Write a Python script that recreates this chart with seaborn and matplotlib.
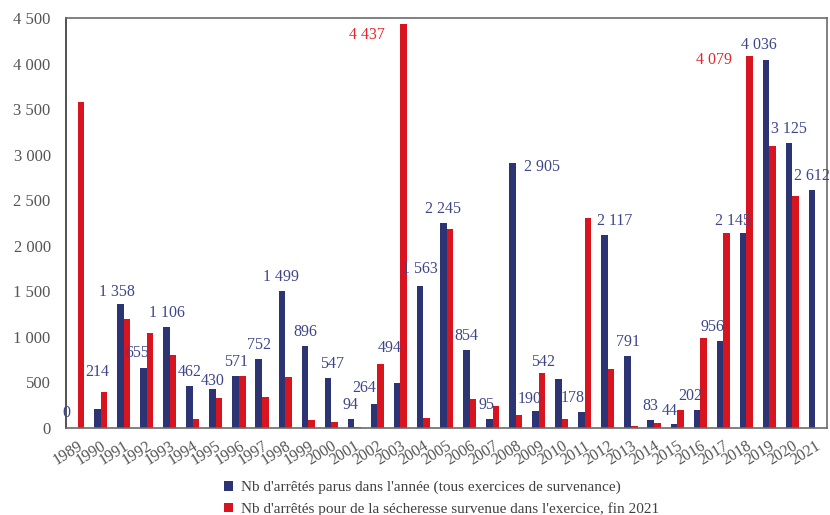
import matplotlib
matplotlib.use("Agg")
import matplotlib.pyplot as plt
from matplotlib.patches import Patch
from matplotlib.ticker import FixedLocator, FuncFormatter
import numpy as np
import pandas as pd
import seaborn as sns

# ---------------- data ----------------
years = [str(y) for y in range(1989, 2022)]
parus = [0, 214, 1358, 655, 1106, 462, 430, 571, 752, 1499, 896, 547, 94, 264, 494,
         1563, 2245, 854, 95, 2905, 190, 542, 178, 2117, 791, 83, 44, 202, 956, 2145,
         4036, 3125, 2612]
survenue = [3580, 390, 1195, 1040, 800, 98, 330, 575, 336, 556, 91, 66, 15, 702, 4437,
            110, 2185, 322, 245, 139, 603, 99, 2300, 647, 22, 55, 201, 987, 2140, 4079,
            3100, 2547, np.nan]
series_names = ["Nb d'arrêtés parus dans l'année (tous exercices de survenance)",
                "Nb d'arrêtés pour de la sécheresse survenue dans l'exercice, fin 2021"]
yticks = [0, 500, 1000, 1500, 2000, 2500, 3000, 3500, 4000, 4500]
red_labelled_years = ["2003", "2018"]

# ---------------- style ----------------
BLUE = "#2D3473"
RED = "#D8141E"
BLUE_TXT = "#3E4689"
RED_TXT = "#E0262E"
GRAY_TXT = "#555555"

sns.set_style("white")
plt.rcParams["font.family"] = ["Liberation Serif", "DejaVu Serif"]

df = pd.DataFrame({
    "year": years * 2,
    "value": parus + survenue,
    "series": [series_names[0]] * len(years) + [series_names[1]] * len(years),
}).dropna()

fig = plt.figure(figsize=(8.3, 5.15), dpi=100)
ax = fig.add_axes([66 / 830, 1 - 428 / 515, (827 - 66) / 830, (428 - 18) / 515])

sns.barplot(data=df, x="year", y="value", hue="series", order=years,
            hue_order=series_names, palette=[BLUE, RED], width=0.57,
            saturation=1, errorbar=None, legend=False, ax=ax,
            linewidth=0, edgecolor="none")

ax.set_xlim(-0.5, len(years) - 0.5)
ax.set_ylim(0, 4500)
ax.set_xlabel("")
ax.set_ylabel("")

# y axis
ax.yaxis.set_major_locator(FixedLocator(yticks))
ax.yaxis.set_major_formatter(FuncFormatter(lambda v, p: f"{int(v):,}".replace(",", " ")))
ax.tick_params(axis="y", length=0, pad=11, labelsize=12, labelcolor=GRAY_TXT)

# x axis: labels at every category, tick marks every two categories
ax.set_xticks(range(len(years)))
ax.set_xticklabels(years, rotation=32, ha="right", va="top", rotation_mode="anchor")
ax.tick_params(axis="x", which="major", length=0, pad=7, labelsize=11.5, labelcolor=GRAY_TXT)
ax.set_xticks(np.arange(-0.5, len(years), 2), minor=True)
ax.tick_params(axis="x", which="minor", length=5, width=1, color="#666666", direction="out")

for s in ax.spines.values():
    s.set_visible(True)
    s.set_color("#6b6b6b")
    s.set_linewidth(1.2)
ax.spines["left"].set_color("#333333")

# data labels (pixel offsets of label centre from bar top)
blue_off = {"1989": (-8, 15), "1990": (0, 37), "1991": (-3, 12), "1992": (-6, 15),
            "1995": (0, 8), "1998": (-1, 14), "2000": (4, 14), "2002": (-10, 16),
            "2003": (-7, 35), "2004": (0, 17), "2007": (-3, 14), "2008": (30, -4),
            "2009": (-6, 12), "2010": (-15, 17), "2011": (-9, 14), "2012": (10, 14),
            "2015": (-4, 13), "2016": (-7, 14), "2017": (-8, 14), "2018": (-10, 12),
            "2019": (-7, 15)}
red_off = {"2003": (-37, -11), "2018": (-36, -4)}

fmt = lambda v: f"{int(round(v)):,}".replace(",", " ")
for yr, bar in zip(years, ax.containers[0]):
    x = bar.get_x() + bar.get_width() / 2
    h = bar.get_height()
    dx, dy = blue_off.get(yr, (0, 14))
    ax.annotate(fmt(h), (x, h), xytext=(dx, dy), textcoords="offset pixels",
                ha="center", va="center", fontsize=11.5, color=BLUE_TXT,
                annotation_clip=False)

red_bars = dict(zip([y for y, v in zip(years, survenue) if not np.isnan(v)], ax.containers[1]))
for yr in red_labelled_years:
    bar = red_bars[yr]
    x = bar.get_x() + bar.get_width() / 2
    h = bar.get_height()
    dx, dy = red_off[yr]
    ax.annotate(fmt(h), (x, h), xytext=(dx, dy), textcoords="offset pixels",
                ha="center", va="center", fontsize=11.5, color=RED_TXT,
                annotation_clip=False)

handles = [Patch(facecolor=BLUE, edgecolor="none"), Patch(facecolor=RED, edgecolor="none")]
fig.legend(handles, series_names, loc="upper left", bbox_to_anchor=(224 / 830, 1 - 481 / 515),
           frameon=False, fontsize=11, handlelength=0.6, handleheight=0.6,
           handletextpad=0.5, labelspacing=0.5, borderpad=0, borderaxespad=0,
           labelcolor="#404040")

fig.savefig("out.png", dpi=100)
